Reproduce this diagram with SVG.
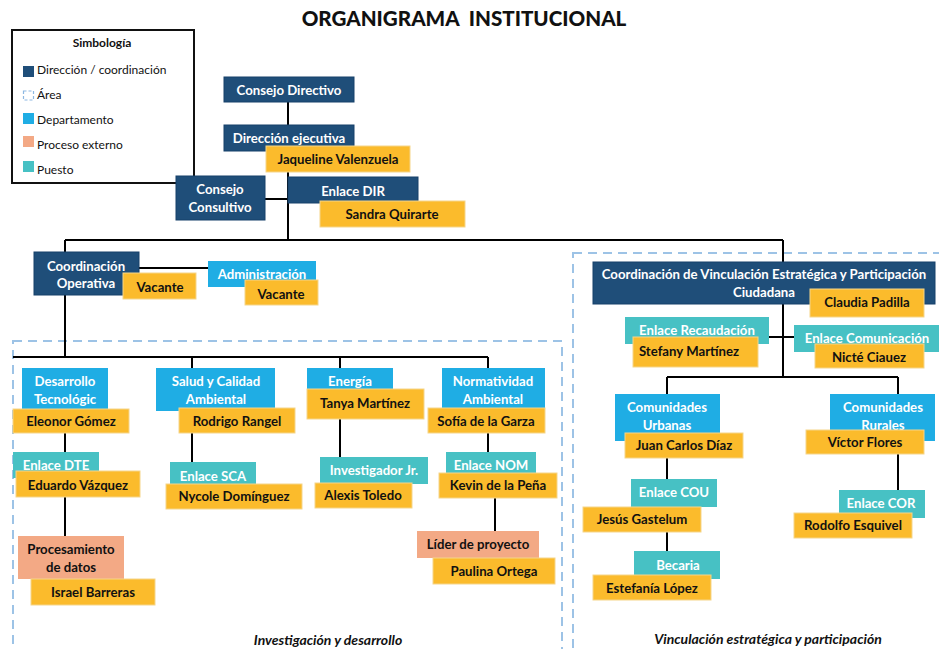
<svg xmlns="http://www.w3.org/2000/svg" width="939" height="649" viewBox="0 0 939 649">
<style>
text{font-family:Lato,"Open Sans","Liberation Sans",sans-serif;}
.t{font-weight:bold;font-size:13.2px;text-anchor:middle;}
.w{fill:#ffffff;}
.k{fill:#111111;}
.dir{fill:#1F4E79;stroke:#17406a;stroke-width:1;}
.dep{fill:#1FADE4;}
.pue{fill:#47C1C4;}
.ext{fill:#F3A985;}
.nam{fill:#FBBB2C;stroke:#f5d58a;stroke-width:1;}
.ln{stroke:#000;stroke-width:2;fill:none;}
.area{fill:none;stroke:#9DC3E6;stroke-width:2;stroke-dasharray:9 6;}
.leg{font-size:12px;fill:#111;}
.cap{font-weight:bold;font-style:italic;text-anchor:middle;fill:#111;}
</style>
<rect width="939" height="649" fill="#ffffff"/>
<text x="464" y="26" style="font-size:20.6px;font-weight:900;text-anchor:middle;fill:#111" xml:space="preserve">ORGANIGRAMA  INSTITUCIONAL</text>

<g id="legend">
<rect x="12" y="30" width="182" height="153" fill="#fff" stroke="#111" stroke-width="2"/>
<text x="102" y="47" style="font-size:12px;font-weight:bold;text-anchor:middle;fill:#111">Simbología</text>
<rect x="23" y="66" width="11" height="11" fill="#1F4E79"/>
<text class="leg" x="37" y="74">Dirección / coordinación</text>
<rect x="23.5" y="91" width="10" height="9" fill="none" stroke="#8DB8E2" stroke-width="1.2" stroke-dasharray="3 2"/>
<text class="leg" x="37" y="99">Área</text>
<rect x="23" y="113" width="11" height="11" fill="#1FADE4"/>
<text class="leg" x="37" y="124">Departamento</text>
<rect x="23" y="136" width="11" height="11" fill="#F3A985"/>
<text class="leg" x="37" y="149">Proceso externo</text>
<rect x="23" y="161" width="11" height="11" fill="#47C1C4"/>
<text class="leg" x="37" y="174">Puesto</text>
</g>

<g id="areas">
<rect class="area" x="13" y="341" width="549" height="330"/>
<rect class="area" x="573" y="253" width="400" height="420"/>
<text class="cap" x="328" y="645" style="font-size:14px">Investigación y desarrollo</text>
<text class="cap" x="768" y="644" style="font-size:14px">Vinculación estratégica y participación</text>
</g>

<g id="connectors">
<path class="ln" d="M288 102V240M265 199H288M65 240H783M65 240V252M783 240V262M139 268H208M65 295V357M13 357H488M192 357V368M340 357V368M488 357V368M65 433V452M65 497V536M192 433V462M340 419V457M488 433V452M495 498V531M783 304V377M769 337H794M667 377H898M667 377V394M898 377V394M667 458V479M667 507V551M898 454V490"/>
</g>

<g id="consejo-directivo">
<rect class="dir" x="224" y="77" width="130" height="25"/>
<text class="t w" x="289" y="94.5">Consejo Directivo</text>
</g>

<g id="direccion-ejecutiva">
<rect class="dir" x="224" y="125" width="130" height="26"/>
<text class="t w" x="289" y="143">Dirección ejecutiva</text>
<rect class="nam" x="266" y="146" width="144" height="26"/>
<text class="t k" x="338" y="164">Jaqueline Valenzuela</text>
</g>

<g id="consejo-consultivo">
<rect class="dir" x="176" y="176" width="89" height="44"/>
<text class="t w" x="220" y="194">Consejo</text>
<text class="t w" x="220" y="212">Consultivo</text>
</g>

<g id="enlace-dir">
<rect class="dir" x="288" y="177" width="130" height="26"/>
<text class="t w" x="353" y="196">Enlace DIR</text>
<rect class="nam" x="320" y="201" width="145" height="26"/>
<text class="t k" x="392" y="219">Sandra Quirarte</text>
</g>

<g id="coordinacion-operativa">
<rect class="dir" x="34" y="252" width="105" height="43"/>
<text class="t w" x="86" y="271">Coordinación</text>
<text class="t w" x="86" y="288">Operativa</text>
<rect class="nam" x="123" y="273" width="73" height="26"/>
<text class="t k" x="160" y="292">Vacante</text>
</g>

<g id="administracion">
<rect class="dep" x="208" y="261" width="108" height="26"/>
<text class="t w" x="262" y="279">Administración</text>
<rect class="nam" x="245" y="280" width="73" height="25"/>
<text class="t k" x="281" y="299">Vacante</text>
</g>

<g id="desarrollo-tecnologico">
<rect class="dep" x="22" y="368" width="86" height="42"/>
<text class="t w" x="65" y="386">Desarrollo</text>
<text class="t w" x="65" y="404">Tecnológic</text>
<rect class="nam" x="13" y="409" width="116" height="24"/>
<text class="t k" x="71" y="426">Eleonor Gómez</text>
</g>

<g id="enlace-dte">
<rect class="pue" x="13" y="452" width="86" height="26"/>
<text class="t w" x="56" y="470">Enlace DTE</text>
<rect class="nam" x="16" y="471" width="124" height="26"/>
<text class="t k" x="78" y="490">Eduardo Vázquez</text>
</g>

<g id="procesamiento-datos">
<rect class="ext" x="18" y="536" width="106" height="43"/>
<text class="t k" x="71" y="554">Procesamiento</text>
<text class="t k" x="71" y="572">de datos</text>
<rect class="nam" x="31" y="579" width="124" height="26"/>
<text class="t k" x="93" y="597">Israel Barreras</text>
</g>

<g id="salud-calidad">
<rect class="dep" x="156" y="368" width="119" height="43"/>
<text class="t w" x="216" y="386">Salud y Calidad</text>
<text class="t w" x="216" y="404">Ambiental</text>
<rect class="nam" x="179" y="408" width="116" height="25"/>
<text class="t k" x="237" y="426">Rodrigo Rangel</text>
</g>

<g id="enlace-sca">
<rect class="pue" x="170" y="462" width="86" height="25"/>
<text class="t w" x="213" y="481">Enlace SCA</text>
<rect class="nam" x="166" y="484" width="136" height="25"/>
<text class="t k" x="234" y="501">Nycole Domínguez</text>
</g>

<g id="energia">
<rect class="dep" x="307" y="368" width="86" height="22"/>
<text class="t w" x="350" y="386">Energía</text>
<rect class="nam" x="307" y="389" width="117" height="30"/>
<text class="t k" x="365" y="408">Tanya Martínez</text>
</g>

<g id="investigador-jr">
<rect class="pue" x="320" y="457" width="108" height="27"/>
<text class="t w" x="374" y="475">Investigador Jr.</text>
<rect class="nam" x="315" y="483" width="97" height="25"/>
<text class="t k" x="363" y="500">Alexis Toledo</text>
</g>

<g id="normatividad-ambiental">
<rect class="dep" x="442" y="368" width="103" height="42"/>
<text class="t w" x="493" y="386">Normatividad</text>
<text class="t w" x="493" y="404">Ambiental</text>
<rect class="nam" x="428" y="408" width="117" height="25"/>
<text class="t k" x="486" y="426">Sofía de la Garza</text>
</g>

<g id="enlace-nom">
<rect class="pue" x="446" y="452" width="90" height="26"/>
<text class="t w" x="491" y="470">Enlace NOM</text>
<rect class="nam" x="439" y="473" width="118" height="25"/>
<text class="t k" x="498" y="490">Kevin de la Peña</text>
</g>

<g id="lider-proyecto">
<rect class="ext" x="417" y="531" width="122" height="27"/>
<text class="t k" x="478" y="549">Líder de proyecto</text>
<rect class="nam" x="433" y="558" width="122" height="26"/>
<text class="t k" x="494" y="576">Paulina Ortega</text>
</g>

<g id="coordinacion-vinculacion">
<rect class="dir" x="593" y="262" width="342" height="42"/>
<text class="t w" x="764" y="279">Coordinación de Vinculación Estratégica y Participación</text>
<text class="t w" x="764" y="297">Ciudadana</text>
<rect class="nam" x="810" y="289" width="114" height="28"/>
<text class="t k" x="867" y="307">Claudia Padilla</text>
</g>

<g id="enlace-recaudacion">
<rect class="pue" x="625" y="317" width="144" height="27"/>
<text class="t w" x="697" y="335">Enlace Recaudación</text>
<rect class="nam" x="633" y="337" width="125" height="30"/>
<text class="t k" x="689" y="356">Stefany Martínez</text>
</g>

<g id="enlace-comunicacion">
<rect class="pue" x="794" y="325" width="145" height="27"/>
<text class="t w" x="867" y="343">Enlace Comunicación</text>
<rect class="nam" x="815" y="344" width="109" height="24"/>
<text class="t k" x="869" y="362">Nicté Ciauez</text>
</g>

<g id="comunidades-urbanas">
<rect class="dep" x="615" y="394" width="105" height="47"/>
<text class="t w" x="667" y="412">Comunidades</text>
<text class="t w" x="667" y="430">Urbanas</text>
<rect class="nam" x="625" y="433" width="118" height="25"/>
<text class="t k" x="684" y="450">Juan Carlos Díaz</text>
</g>

<g id="enlace-cou">
<rect class="pue" x="631" y="479" width="86" height="28"/>
<text class="t w" x="674" y="497">Enlace COU</text>
<rect class="nam" x="583" y="507" width="118" height="25"/>
<text class="t k" x="642" y="524">Jesús Gastelum</text>
</g>

<g id="becaria">
<rect class="pue" x="634" y="551" width="86" height="28"/>
<text class="t w" x="678" y="570">Becaria</text>
<rect class="nam" x="593" y="575" width="118" height="25"/>
<text class="t k" x="652" y="593">Estefanía López</text>
</g>

<g id="comunidades-rurales">
<rect class="dep" x="830" y="394" width="105" height="47"/>
<text class="t w" x="883" y="412">Comunidades</text>
<text class="t w" x="883" y="430">Rurales</text>
<rect class="nam" x="806" y="430" width="118" height="24"/>
<text class="t k" x="865" y="447">Víctor Flores</text>
</g>

<g id="enlace-cor">
<rect class="pue" x="839" y="490" width="86" height="28"/>
<text class="t w" x="881" y="508">Enlace COR</text>
<rect class="nam" x="794" y="513" width="118" height="25"/>
<text class="t k" x="853" y="530">Rodolfo Esquivel</text>
</g>
</svg>
